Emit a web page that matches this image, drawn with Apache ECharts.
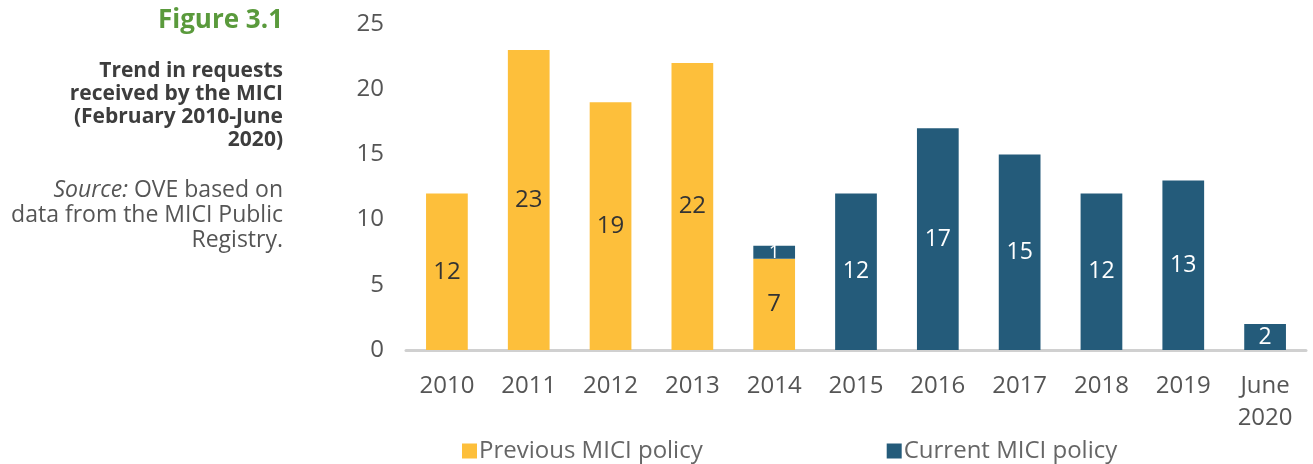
<!DOCTYPE html>
<html>
<head>
<meta charset="utf-8">
<script src="https://cdn.jsdelivr.net/npm/echarts@6/dist/echarts.min.js"></script>
<style>
  html, body { margin: 0; padding: 0; background: #fff; }
  #chart { width: 1313px; height: 464px; }
</style>
</head>
<body>
<div id="chart"></div>
<script>
// chart data
const years = ['2010', '2011', '2012', '2013', '2014', '2015', '2016', '2017', '2018', '2019', 'June\n2020'];
const previousPolicy = [12, 23, 19, 22, 7, '-', '-', '-', '-', '-', '-'];
const currentPolicy = ['-', '-', '-', '-', 1, 12, 17, 15, 12, 13, 2];
const yTicks = [0, 5, 10, 15, 20, 25];

const FONT = '"Open Sans", "Noto Sans", sans-serif';
const chart = echarts.init(document.getElementById('chart'));

// the thin 2014 segment gets a smaller label that is allowed to spill out
const currentData = currentPolicy.map(v => (v === 1 ? { value: v, label: { fontSize: 19, offset: [0, 3] } } : v));

const option = {
  animation: false,
  textStyle: { fontFamily: FONT },
  grid: { left: 406, right: 7, top: 24, bottom: 114 },
  legend: {
    top: 434,
    left: 457,
    itemWidth: 15,
    itemHeight: 15,
    itemGap: 184,
    icon: 'rect',
    textStyle: { fontSize: 24, color: '#666', fontFamily: FONT, padding: [0, 0, 0, -3] },
    data: ['Previous MICI policy', 'Current MICI policy']
  },
  xAxis: {
    type: 'category',
    data: years,
    axisTick: { show: false },
    axisLine: { lineStyle: { color: '#d0d0d0', width: 3 } },
    axisLabel: { fontSize: 24, color: '#555', margin: 20, lineHeight: 32, interval: 0 }
  },
  yAxis: {
    type: 'value',
    min: yTicks[0],
    max: yTicks[yTicks.length - 1],
    interval: 5,
    splitLine: { show: false },
    axisLine: { show: false },
    axisLabel: { fontSize: 24, color: '#555', margin: 22 }
  },
  series: [
    {
      name: 'Previous MICI policy',
      type: 'bar',
      stack: 'req',
      barWidth: '51%',
      data: previousPolicy,
      itemStyle: { color: '#FDBF3B' },
      label: { show: true, position: 'inside', fontSize: 24, color: '#333', fontFamily: FONT, offset: [0, 3] }
    },
    {
      name: 'Current MICI policy',
      type: 'bar',
      stack: 'req',
      barWidth: '51%',
      data: currentData,
      itemStyle: { color: '#245B7A' },
      label: { show: true, position: 'inside', fontSize: 23, color: '#fff', fontFamily: FONT, textBorderWidth: 0, offset: [0, 3] }
    }
  ],
  labelLayout: { hideOverlap: false },
  graphic: [
    {
      type: 'text', right: 1030, top: 8,
      style: { text: 'Figure 3.1', font: 'bold 26px ' + FONT, fill: '#5A9A3C', textAlign: 'right' }
    },
    {
      type: 'text', right: 1030, top: 60,
      style: {
        text: 'Trend in requests\nreceived by the MICI\n(February 2010-June\n2020)',
        font: 'bold 21px ' + FONT, fill: '#3d3d3d', lineHeight: 23, textAlign: 'right'
      }
    },
    {
      type: 'text', right: 1030, top: 178,
      style: {
        text: '{i|Source:} OVE based on\ndata from the MICI Public\nRegistry.',
        font: '23px ' + FONT, fill: '#555', lineHeight: 25, textAlign: 'right',
        rich: { i: { fontStyle: 'italic', fontSize: 23, fontFamily: FONT, fill: '#555' } }
      }
    }
  ]
};

chart.setOption(option);
window.addEventListener('resize', () => chart.resize());
</script>
</body>
</html>
